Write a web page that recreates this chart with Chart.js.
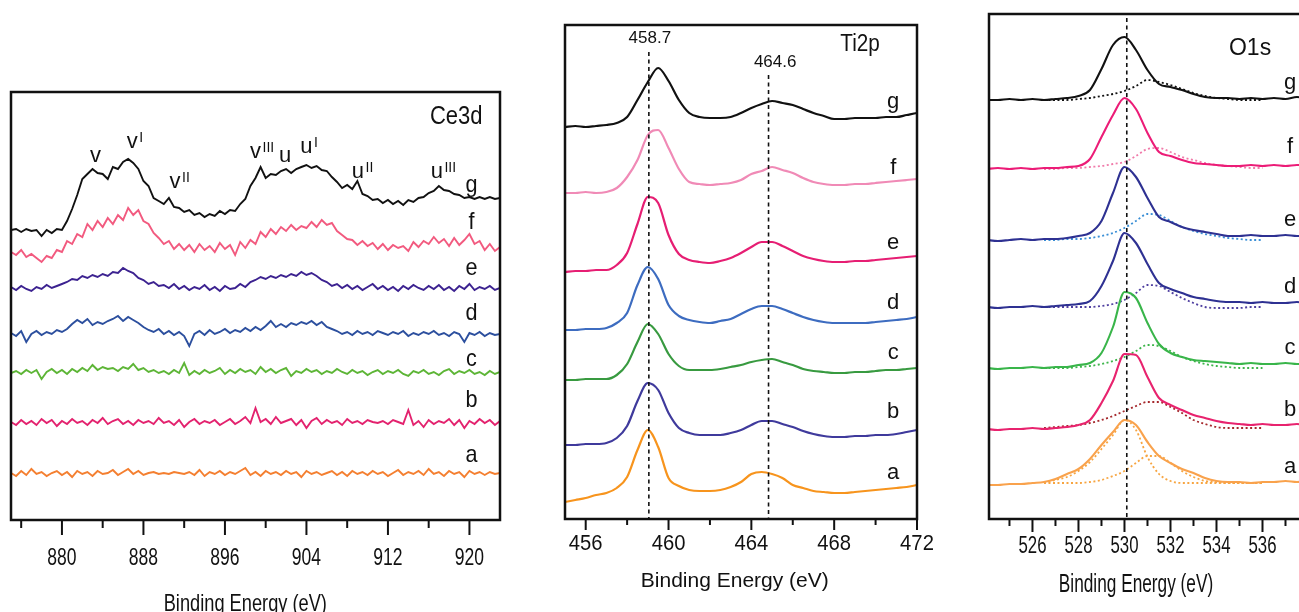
<!DOCTYPE html>
<html>
<head>
<meta charset="utf-8">
<script src="https://cdn.jsdelivr.net/npm/chart.js@4.4.1/dist/chart.umd.min.js"></script>
<style>
  html, body { margin: 0; padding: 0; background: #fff; overflow: hidden; width: 1299px; height: 612px; }
  canvas { position: absolute; top: 0; }
</style>
</head>
<body>
<canvas id="ce" width="515" height="612" style="left:0px"></canvas>
<canvas id="ti" width="420" height="612" style="left:530px"></canvas>
<canvas id="o1" width="400" height="612" style="left:955px"></canvas>
<script>
// ---- Ce3d panel (intensity in arbitrary units, offset stacked as plotted) ----
const ceX = Array.from({ length: 97 }, (_, i) => 875 + i * 0.5);
const ceMajor = [880, 888, 896, 904, 912, 920];
const ceMinor = [876, 884, 892, 900, 908, 916];
const ceG = [290,291,288,291,289,290,284,290,287,291, 290,299,311,325,341,346,351,347,346,341,
  353,351,358,361,357,351,339,334,322,319, 316,322,313,312,308,310,305,307,303,306,
  304,309,306,310,309,316,321,334,342,353, 342,346,345,349,351,347,351,353,355,352,
  354,350,349,343,338,332,335,331,339,326, 324,320,321,317,320,316,319,315,320,318,
  322,323,327,329,334,330,329,326,325,322, 323,321,323,321,323,321,322];
const ceF = [268,265,270,263,266,262,258,264,262,270, 268,279,276,286,283,296,290,299,293,302,
  296,305,300,312,305,310,299,296,287,282, 276,279,271,276,270,275,268,276,270,274,
  268,277,271,275,265,278,272,280,276,288, 283,291,286,293,289,295,290,294,292,298,
  293,300,295,297,289,285,281,280,275,279, 274,277,271,276,270,275,272,274,269,278,
  273,279,276,283,277,281,274,282,275,280, 286,276,279,270,276,269,273];
const ceE = [233,230,234,231,229,233,231,235,232,234, 236,238,241,240,244,242,245,243,246,244,
  248,247,252,249,247,242,240,236,238,234, 235,232,236,231,234,230,233,231,235,230,
  233,229,234,231,232,236,233,238,240,243, 241,244,242,245,243,246,244,248,245,247,
  244,240,238,234,236,232,235,231,234,230, 233,236,231,234,230,233,229,234,231,235,
  232,230,234,231,235,230,233,229,234,231, 236,230,233,231,234,230,232];
const ceD = [187,184,189,178,186,189,185,188,186,190, 188,191,196,200,197,201,195,198,196,199,
  201,204,199,203,200,197,193,190,188,191, 186,189,185,188,184,174,186,189,185,190,
  186,188,191,187,190,188,192,189,193,190, 194,199,193,196,193,197,195,198,196,199,
  195,198,193,191,189,186,188,185,189,186, 188,185,189,187,185,188,186,189,184,187,
  185,188,186,189,185,187,184,188,186,178, 187,185,188,184,187,185,186];
const ceC = [147,149,146,150,147,150,141,148,151,147, 150,146,151,148,152,149,155,150,153,151,
  152,149,153,151,156,150,152,148,150,147, 149,146,150,147,157,145,149,146,150,147,
  149,152,146,150,147,151,148,150,146,153, 148,151,147,150,152,144,149,147,151,148,
  150,146,149,147,151,148,146,150,147,149, 145,148,150,146,149,147,150,146,144,149,
  147,150,146,148,145,149,151,146,149,147, 150,146,148,145,149,146,148];
const ceB = [98,95,100,96,99,95,101,97,100,94, 99,96,101,97,99,95,100,97,102,96,
  99,101,96,99,95,100,97,99,96,102, 97,99,95,100,93,98,101,96,99,97,
  100,95,98,101,96,99,103,97,112,98, 101,96,103,97,99,101,95,100,92,99,
  102,96,100,97,99,95,101,97,99,96, 100,98,97,99,96,100,98,96,110,95,
  99,93,100,96,99,97,101,95,100,92, 99,96,101,97,100,95,99];
const ceA = [47,44,49,45,51,46,48,44,47,49, 45,48,43,49,46,48,44,49,46,47,
  50,45,48,51,46,49,45,47,48,46, 47,46,48,47,46,48,45,50,44,48,
  46,49,45,48,46,49,52,45,48,44, 49,46,48,45,49,46,48,43,49,46,
  48,45,47,49,45,48,44,49,46,48, 45,49,46,48,44,47,50,45,48,46,
  49,45,51,46,48,44,49,46,48,43, 49,46,48,45,48,46,47];

// ---- Ti2p panel ----
const tiX = Array.from({ length: 35 }, (_, i) => 455 + i * 0.5).concat([472.6]);
const tiMajor = [456, 460, 464, 468, 472];
const tiMinor = [458, 462, 466, 470];
const tiG = [392,393,392,393,394,396,402,419,437,451, 438,419,406,402,401,401,402,406,411,415,
  418,416,414,410,406,403,400,400,401,401, 401,402,402,404,406, 408];
const tiF = [326,326,327,326,327,331,342,359,384,389, 371,350,337,335,334,335,336,339,345,348,
  352,349,346,341,337,335,334,334,335,335, 336,337,338,339,340, null];
const tiE = [247,248,248,249,249,254,266,295,322,316, 284,265,259,257,256,258,261,266,272,277,
  277,273,268,263,260,258,257,257,258,258, 259,260,261,262,263, null];
const tiD = [189,189,190,190,191,196,206,234,252,240, 214,203,199,197,196,198,200,205,210,213,
  213,210,206,202,199,197,196,196,196,196, 197,198,199,200,202, null];
const tiC = [139,139,140,140,140,144,155,177,195,185, 165,153,149,149,149,150,152,154,157,159,
  160,157,154,150,148,147,146,146,147,147, 148,149,149,150,151, null];
const tiB = [74,74,75,75,76,81,93,118,136,129, 106,91,86,84,84,84,86,89,94,98,
  98,95,92,88,85,83,82,82,83,83, 84,84,85,87,89, null];
const tiA = [17,19,21,24,26,31,42,69,89,72, 41,33,29,28,28,29,32,37,45,47,
  45,41,34,31,28,27,26,26,27,28, 29,30,31,32,34, null];

// ---- O1s panel (measured curve + fitted components) ----
const oX = Array.from({ length: 30 }, (_, i) => 524 + i * 0.5);
const oMajor = [526, 528, 530, 532, 534, 536];
const oMinor = [525, 527, 529, 531, 533, 535, 537];
const N = null;
const oG = [419,419,420,419,420,419,420,421,423,429, 450,474,482,469,449,435,432,429,425,422,
  421,421,420,421,420,421,420,422,421,421];
const oGfit = [N,N,N,N,N,419,419,419,420,421, 423,425,428,433,439,437,434,430,426,423, 421,420,419,419,419,N,N,N,N,N];
const oF = [350,351,350,351,350,351,351,352,353,360, 382,404,421,410,386,367,363,359,356,355,
  354,353,353,354,353,354,353,354,354,354];
const oFfit = [N,N,N,N,N,350,350,351,351,352, 353,355,357,363,370,371,367,362,359,356, 354,353,352,351,351,N,N,N,N,N];
const oE = [279,278,279,280,279,280,280,281,283,286, 298,326,352,342,321,302,297,292,289,287,
  285,283,283,284,283,283,284,283,283,283];
const oEfit = [N,N,N,N,N,279,279,280,280,281, 283,286,291,298,305,304,298,292,288,285, 283,281,280,279,279,N,N,N,N,N];
const oD = [212,211,212,212,213,212,213,214,215,218, 233,258,286,276,255,236,230,226,222,220,
  218,217,217,216,217,216,216,217,216,216];
const oDfit = [N,N,N,N,N,212,212,212,212,212, 213,215,219,226,234,233,227,221,216,212, 211,211,211,212,212,N,N,N,N,N];
const oC = [151,150,151,151,152,151,152,152,154,156, 166,192,227,221,196,175,166,162,159,158,
  157,156,155,156,155,155,156,155,155,155];
const oCfit = [N,N,N,N,N,151,151,151,152,153, 155,158,162,168,174,173,168,162,158,155, 153,152,151,151,151,N,N,N,N,N];
const oB = [90,89,90,90,91,90,91,92,94,99, 116,138,165,164,142,121,114,109,104,101,
  98,96,95,94,95,94,94,95,94,94];
const oBfit = [N,N,N,N,N,91,92,93,94,96, 99,103,108,113,117,117,112,106,99,95, 92,91,91,91,91,N,N,N,N,N];
const oA = [34,34,35,35,36,37,40,45,50,60, 74,87,99,94,77,63,56,50,46,41,
  38,37,37,36,37,37,38,37,38,38];
const oAfit1 = [N,N,N,N,N,36,39,42,48,57, 70,84,99,89,62,45,38,36,36,36, 36,36,36,36,36,N,N,N,N,N];
const oAfit2 = [N,N,N,N,N,36,36,36,36,37, 39,43,48,56,63,63,56,48,42,38, 37,36,36,36,36,N,N,N,N,N];

const FONT = '"Liberation Sans", Arial, Helvetica, sans-serif';

function line(xs, ys, color, width, extra) {
  return Object.assign({
    data: xs.map((x, i) => ({ x: x, y: ys[i] })),
    borderColor: color,
    borderWidth: width,
    pointRadius: 0,
    fill: false,
    tension: 0
  }, extra || {});
}

// text drawn with an optional horizontal squeeze (the source figure has narrow lettering)
function putText(ctx, str, px, py, size, sx, align, base) {
  ctx.save();
  ctx.font = size + 'px ' + FONT;
  ctx.textAlign = align || 'center';
  ctx.textBaseline = base || 'middle';
  ctx.translate(px, py);
  ctx.scale(sx || 1, 1);
  ctx.fillText(str, 0, 0);
  const w = ctx.measureText(str).width * (sx || 1);
  ctx.restore();
  return w;
}

// frame, tick marks + labels, dashed guides and the text labels
function panelDecor(p) {
  return {
    id: 'panelDecor',
    afterDraw(chart) {
      const ctx = chart.ctx, a = chart.chartArea;
      const x = chart.scales.x, y = chart.scales.y;
      ctx.save();
      ctx.strokeStyle = '#111';
      ctx.fillStyle = '#111';
      ctx.lineWidth = 1.6;
      ctx.setLineDash([4, 3.5]);
      (p.guides || []).forEach(g => {
        const px = x.getPixelForValue(g.at);
        ctx.beginPath();
        ctx.moveTo(px, y.getPixelForValue(g.from));
        ctx.lineTo(px, a.bottom);
        ctx.stroke();
      });
      ctx.setLineDash([]);
      ctx.lineWidth = p.frameW;
      ctx.strokeRect(a.left, a.top, a.right - a.left, a.bottom - a.top);
      ctx.lineWidth = 2;
      x.ticks.forEach((t, i) => {
        const px = x.getPixelForTick(i);
        ctx.beginPath(); ctx.moveTo(px, a.bottom); ctx.lineTo(px, a.bottom + p.majorLen); ctx.stroke();
        putText(ctx, t.label != null ? String(t.label) : String(t.value), px, a.bottom + p.tickLab.dy,
          p.tickLab.size, p.tickLab.sx, 'center', 'alphabetic');
      });
      p.minor.forEach(v => {
        const px = x.getPixelForValue(v);
        ctx.beginPath(); ctx.moveTo(px, a.bottom); ctx.lineTo(px, a.bottom + p.minorLen); ctx.stroke();
      });
      p.texts.forEach(t => {
        const px = x.getPixelForValue(t.x), py = y.getPixelForValue(t.y);
        const w = putText(ctx, t.text, px, py, t.size, t.sx || 1, 'center', t.base);
        if (t.sup) putText(ctx, t.sup, px + w / 2 + 1.5, py - 6, 14, 1, 'left', 'alphabetic');
      });
      putText(ctx, 'Binding Energy (eV)', x.getPixelForValue(p.title.x), a.bottom + p.title.dy,
        p.title.size, p.title.sx, 'center', 'alphabetic');
      ctx.restore();
    }
  };
}

function buildChart(id, p) {
  return new Chart(document.getElementById(id), {
    type: 'line',
    data: { datasets: p.datasets },
    options: {
      responsive: false,
      animation: false,
      layout: { autoPadding: false, padding: p.pad },
      plugins: { legend: { display: false }, tooltip: { enabled: false } },
      scales: {
        x: {
          type: 'linear',
          min: p.xMin,
          max: p.xMax,
          afterFit: s => { s.height = p.axisH; },
          afterBuildTicks: s => { s.ticks = p.major.map(v => ({ value: v })); },
          grid: { display: false, drawTicks: false },
          border: { display: false },
          ticks: { display: false, autoSkip: false }
        },
        y: { display: false, min: 0, max: p.yMax }
      }
    },
    plugins: [panelDecor(p)]
  });
}

const letters = ['g', 'f', 'e', 'd', 'c', 'b', 'a'];

buildChart('ce', {
  xMin: 875, xMax: 923, yMax: 428,
  pad: { left: 11, right: 15, top: 92, bottom: 0 }, axisH: 92,
  major: ceMajor, minor: ceMinor, majorLen: 15, minorLen: 8, frameW: 2.5,
  tickLab: { size: 24, sx: 0.73, dy: 45 },
  title: { x: 898, dy: 91, size: 24, sx: 0.76 },
  datasets: [
    line(ceX, ceG, '#111111', 1.9),
    line(ceX, ceF, '#F25A7F', 1.9),
    line(ceX, ceE, '#3C2290', 1.9),
    line(ceX, ceD, '#2C4F9E', 1.9),
    line(ceX, ceC, '#5DB536', 1.9),
    line(ceX, ceB, '#E3226E', 1.9),
    line(ceX, ceA, '#F47F30', 1.9)
  ],
  texts: [
    { text: 'Ce3d', x: 918.7, y: 403, size: 25, sx: 0.88 },
    { text: 'v', x: 883.3, y: 358, size: 22, base: 'alphabetic' },
    { text: 'v', x: 886.9, y: 372, size: 22, base: 'alphabetic', sup: 'I' },
    { text: 'v', x: 891.1, y: 332, size: 22, base: 'alphabetic', sup: 'II' },
    { text: 'v', x: 899.0, y: 362, size: 22, base: 'alphabetic', sup: 'III' },
    { text: 'u', x: 901.9, y: 358, size: 22, base: 'alphabetic' },
    { text: 'u', x: 904.0, y: 367, size: 22, base: 'alphabetic', sup: 'I' },
    { text: 'u', x: 909.05, y: 342, size: 22, base: 'alphabetic', sup: 'II' },
    { text: 'u', x: 916.8, y: 342, size: 22, base: 'alphabetic', sup: 'III' }
  ].concat([335, 298, 252, 207, 161, 120, 65].map((v, i) => ({ text: letters[i], x: 920.2, y: v, size: 24, sx: 0.9 })))
});

buildChart('ti', {
  xMin: 455, xMax: 472, yMax: 494,
  pad: { left: 35, right: 33, top: 25, bottom: 0 }, axisH: 93,
  major: tiMajor, minor: tiMinor, majorLen: 11, minorLen: 6, frameW: 2.5,
  tickLab: { size: 22, sx: 0.92, dy: 31 },
  title: { x: 463.2, dy: 68, size: 21, sx: 1 },
  guides: [{ at: 459.05, from: 467 }, { at: 464.83, from: 444 }],
  datasets: [
    line(tiX, tiG, '#111111', 2.2, { cubicInterpolationMode: 'monotone', clip: false }),
    line(tiX, tiF, '#F08AB6', 2.2, { cubicInterpolationMode: 'monotone', clip: false }),
    line(tiX, tiE, '#E61E73', 2.2, { cubicInterpolationMode: 'monotone', clip: false }),
    line(tiX, tiD, '#3D6CC0', 2.2, { cubicInterpolationMode: 'monotone', clip: false }),
    line(tiX, tiC, '#389A40', 2.2, { cubicInterpolationMode: 'monotone', clip: false }),
    line(tiX, tiB, '#3F3A9C', 2.2, { cubicInterpolationMode: 'monotone', clip: false }),
    line(tiX, tiA, '#F7941D', 2.2, { cubicInterpolationMode: 'monotone', clip: false })
  ],
  texts: [
    { text: 'Ti2p', x: 469.25, y: 474, size: 23, sx: 0.9 },
    { text: '458.7', x: 459.1, y: 481, size: 17 },
    { text: '464.6', x: 465.15, y: 457, size: 17 }
  ].concat([417, 351, 276, 216, 166, 107, 46].map((v, i) => ({ text: letters[i], x: 470.85, y: v, size: 22 })))
});

const smooth = { cubicInterpolationMode: 'monotone' };
const dotted = { cubicInterpolationMode: 'monotone', borderDash: [2, 2.5] };
buildChart('o1', {
  xMin: 524.11, xMax: 538.5, yMax: 505,
  pad: { left: 34, right: 35, top: 14, bottom: 0 }, axisH: 93,
  major: oMajor, minor: oMinor, majorLen: 13, minorLen: 7, frameW: 2.5,
  tickLab: { size: 23, sx: 0.73, dy: 34 },
  title: { x: 530.5, dy: 73, size: 25, sx: 0.69 },
  guides: [{ at: 530.1, from: 501 }],
  datasets: [
    line(oX, oG, '#111111', 2.1, smooth),
    line(oX, oF, '#EC1C77', 2.1, smooth),
    line(oX, oE, '#2E3192', 2.1, smooth),
    line(oX, oD, '#2E3192', 2.1, smooth),
    line(oX, oC, '#39B54A', 2.1, smooth),
    line(oX, oB, '#E8236E', 2.1, smooth),
    line(oX, oA, '#F9A24C', 2.1, smooth),
    line(oX, oGfit, '#111111', 1.8, dotted),
    line(oX, oFfit, '#F07BAA', 1.8, dotted),
    line(oX, oEfit, '#3A8FD6', 1.8, dotted),
    line(oX, oDfit, '#4F3FA0', 1.8, dotted),
    line(oX, oCfit, '#3DB54A', 1.8, dotted),
    line(oX, oBfit, '#A5282C', 1.8, dotted),
    line(oX, oAfit1, '#F7A541', 1.8, dotted),
    line(oX, oAfit2, '#F7A541', 1.8, dotted)
  ],
  texts: [
    { text: 'O1s', x: 535.46, y: 470, size: 23 }
  ].concat([436, 372, 299, 232, 171, 109, 52].map((v, i) => ({ text: letters[i], x: 537.2, y: v, size: 22 })))
});
</script>
</body>
</html>
